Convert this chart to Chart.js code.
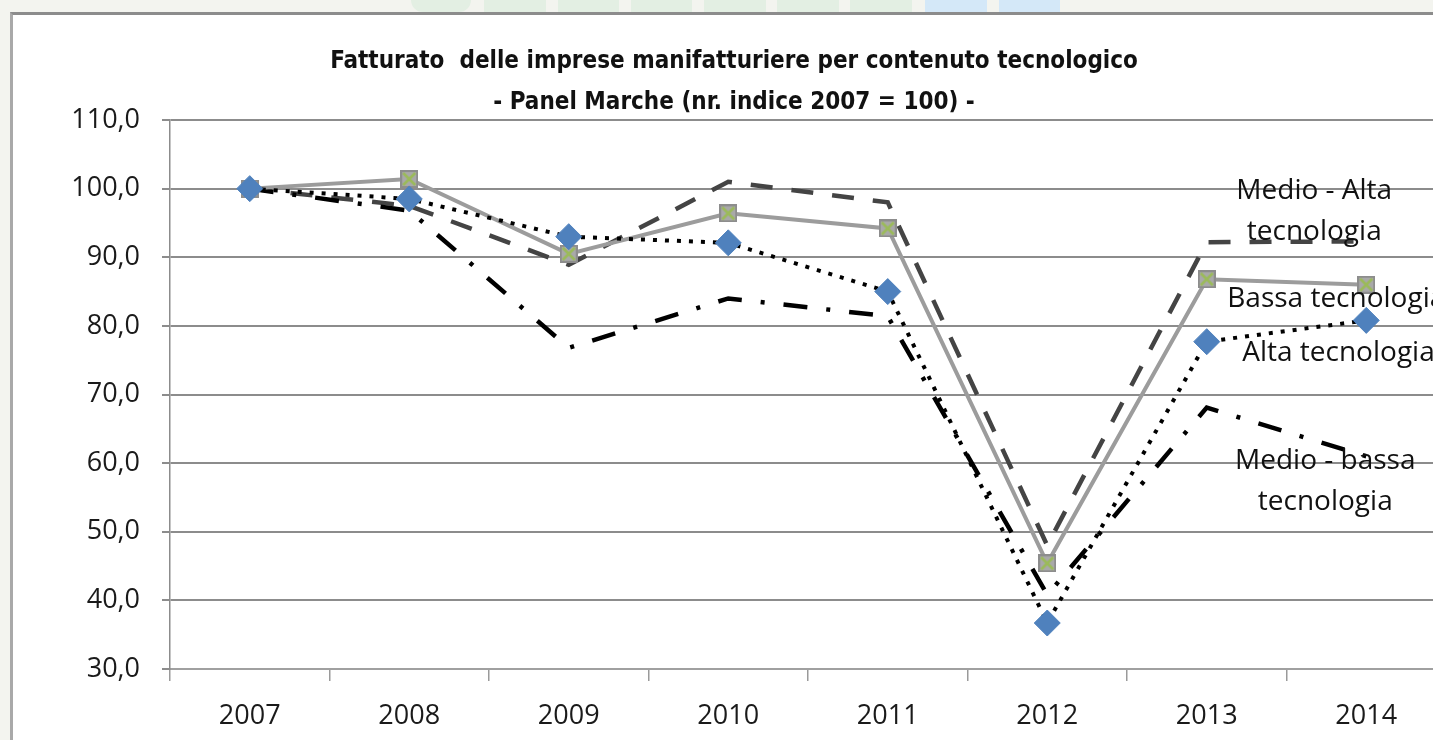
<!DOCTYPE html>
<html>
<head>
<meta charset="utf-8">
<script src="https://cdn.jsdelivr.net/npm/chart.js@4/dist/chart.umd.min.js"></script>
<style>
  html, body { margin:0; padding:0; width:1433px; height:740px; overflow:hidden; background:#f3f4ef; }
  .deco { position:absolute; top:0; height:12px; }
  #frame { position:absolute; left:10px; top:12px; width:1460px; height:740px; background:#ffffff;
           border-top:3px solid #8c8c8c; border-left:3px solid #a9a9a9; box-sizing:border-box; }
  #c { position:absolute; left:0; top:0; }
</style>
</head>
<body>
<div class="deco" style="left:411px;width:60px;background:#e3efe3;border-radius:0 0 30px 30px"></div>
<div class="deco" style="left:484px;width:62px;background:#e3efe3"></div>
<div class="deco" style="left:558px;width:61px;background:#e3efe3"></div>
<div class="deco" style="left:631px;width:61px;background:#e3efe3"></div>
<div class="deco" style="left:704px;width:62px;background:#e3efe3"></div>
<div class="deco" style="left:777px;width:62px;background:#e3efe3"></div>
<div class="deco" style="left:850px;width:62px;background:#e3efe3"></div>
<div class="deco" style="left:925px;width:62px;background:#d4e8f8"></div>
<div class="deco" style="left:999px;width:61px;background:#d4e8f8"></div>
<div id="frame"></div>
<canvas id="c" width="1468" height="740"></canvas>
<script>
// ---- data ----
const years = ['2007', '2008', '2009', '2010', '2011', '2012', '2013', '2014'];
const altaTecnologia = [100, 98.5, 93.0, 92.1, 85.0, 36.7, 77.7, 80.8];
const bassaTecnologia = [100, 101.4, 90.5, 96.4, 94.2, 45.4, 86.8, 86.0];
const medioAltaTecnologia = [100, 97.5, 88.9, 101.0, 98.0, 48.0, 92.2, 92.3];
const medioBassaTecnologia = [100, 96.8, 76.8, 84.0, 81.4, 40.8, 68.1, 61.0];
const yTickLabels = ['30,0', '40,0', '50,0', '60,0', '70,0', '80,0', '90,0', '100,0', '110,0'];
const seriesNames = ['Alta tecnologia', 'Bassa tecnologia', 'Medio - Alta tecnologia', 'Medio - bassa tecnologia'];
const seriesLabelLines = [['Alta tecnologia'], ['Bassa tecnologia'], ['Medio - Alta', 'tecnologia'], ['Medio - bassa', 'tecnologia']];
const titleLines = ['Fatturato  delle imprese manifatturiere per contenuto tecnologico', '- Panel Marche (nr. indice 2007 = 100) -'];

const FONT = "'Open Sans', 'Liberation Sans', sans-serif";
const TITLE_FONT = "'Liberation Sans Narrow', 'DejaVu Sans Condensed', 'Open Sans', sans-serif";

function makeXMarker() {
  const c = document.createElement('canvas');
  c.width = 18; c.height = 18;
  const g = c.getContext('2d');
  g.fillStyle = '#8d8d8d';
  g.fillRect(0, 0, 18, 18);
  g.fillStyle = '#a9a9a9';
  g.fillRect(2, 2, 14, 14);
  g.strokeStyle = '#9bbb59';
  g.lineWidth = 2.6;
  g.beginPath();
  g.moveTo(3, 3); g.lineTo(15, 15);
  g.moveTo(15, 3); g.lineTo(3, 15);
  g.stroke();
  return c;
}

const titlePlugin = {
  id: 'fixedTitle',
  afterDraw(chart, args, opts) {
    const ctx = chart.ctx;
    ctx.save();
    ctx.font = 'bold ' + opts.size + 'px ' + TITLE_FONT;
    ctx.fillStyle = '#111';
    ctx.textAlign = 'center';
    ctx.textBaseline = 'middle';
    opts.lines.forEach((l, i) => ctx.fillText(l, opts.x, opts.y[i]));
    ctx.restore();
  }
};

const seriesLabelPlugin = {
  id: 'seriesLabels',
  afterDatasetsDraw(chart, args, opts) {
    const ctx = chart.ctx;
    ctx.save();
    ctx.font = opts.size + 'px ' + FONT;
    ctx.fillStyle = '#111';
    ctx.textBaseline = 'middle';
    chart.data.datasets.forEach((ds, i) => {
      const meta = chart.getDatasetMeta(i);
      const pt = meta.data[meta.data.length - 1];
      const o = opts.place[i];
      ctx.textAlign = o.align;
      seriesLabelLines[i].forEach((line, j) => {
        ctx.fillText(line, pt.x + o.dx, pt.y + o.dy + j * opts.gap);
      });
    });
    ctx.restore();
  }
};

new Chart(document.getElementById('c'), {
  type: 'line',
  data: {
    labels: years,
    datasets: [
      {
        label: seriesNames[0], data: altaTecnologia, order: 1,
        borderColor: '#000', borderWidth: 4, borderDash: [4, 8],
        pointStyle: 'rectRot', pointRadius: 13, pointBackgroundColor: '#4f81bd', pointBorderColor: '#4f81bd', pointBorderWidth: 1,
        tension: 0, fill: false
      },
      {
        label: seriesNames[1], data: bassaTecnologia, order: 2,
        borderColor: '#9c9c9c', borderWidth: 4,
        pointStyle: makeXMarker(), pointRadius: 9,
        tension: 0, fill: false
      },
      {
        label: seriesNames[2], data: medioAltaTecnologia, order: 4,
        borderColor: '#444', borderWidth: 4.5, borderDash: [22, 19],
        pointRadius: 0, tension: 0, fill: false
      },
      {
        label: seriesNames[3], data: medioBassaTecnologia, order: 3,
        borderColor: '#000', borderWidth: 4.5, borderDash: [24, 19, 4, 19],
        pointRadius: 0, tension: 0, fill: false
      }
    ]
  },
  options: {
    responsive: false,
    animation: false,
    devicePixelRatio: 1,
    layout: { padding: { top: 120, right: 22, left: 0, bottom: 0 } },
    plugins: {
      legend: { display: false },
      title: { display: false },
      tooltip: { enabled: false },
      fixedTitle: { lines: titleLines, x: 734, y: [62, 103], size: 24 },
      seriesLabels: {
        size: 28, gap: 41,
        place: [
          { dx: -124, dy: 33, align: 'left' },
          { dx: -139, dy: 14, align: 'left' },
          { dx: -52, dy: -50, align: 'center' },
          { dx: -41, dy: 5, align: 'center' }
        ]
      }
    },
    scales: {
      x: {
        type: 'category',
        offset: true,
        grid: { offset: true, drawOnChartArea: false, drawTicks: true, tickLength: 12, color: '#9a9a9a', lineWidth: 1.5 },
        border: { display: true, color: '#a0a0a0', width: 2 },
        ticks: { font: { family: FONT, size: 27 }, color: '#1a1a1a', padding: 19, maxRotation: 0, autoSkip: false },
        afterFit(s) { s.height = 71; }
      },
      y: {
        min: 30, max: 110,
        ticks: {
          stepSize: 10,
          font: { family: FONT, size: 27 }, color: '#1a1a1a', padding: 22,
          callback: (v) => yTickLabels[Math.round((v - 30) / 10)]
        },
        grid: { color: '#8c8c8c', lineWidth: 2, tickLength: 8 },
        border: { display: true, color: '#8c8c8c', width: 1.5 },
        afterFit(s) { s.width = 170; }
      }
    }
  },
  plugins: [titlePlugin, seriesLabelPlugin]
});
</script>
</body>
</html>
